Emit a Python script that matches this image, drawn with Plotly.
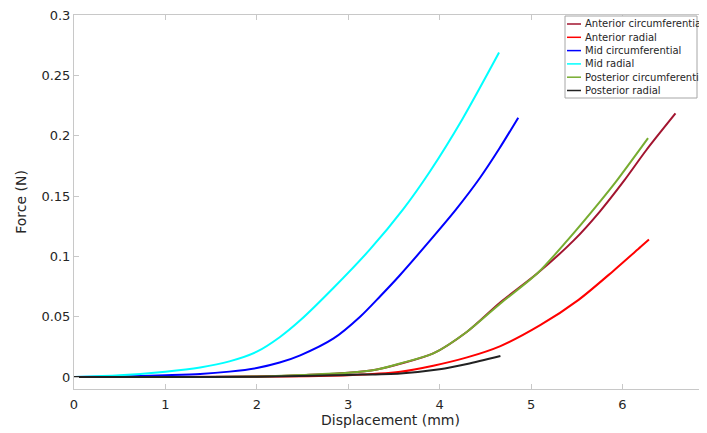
import plotly.graph_objects as go

# Data (Displacement in mm, Force in N)
ant_circ_x = [0, 1, 2, 2.5, 3, 3.3, 3.57, 3.93, 4.3, 4.665, 5.07, 5.47, 5.75, 6.02, 6.26, 6.58]
ant_circ_y = [0, 0, 0.0005, 0.0015, 0.0035, 0.006, 0.011, 0.0196, 0.0376, 0.062, 0.086, 0.1135, 0.137, 0.163, 0.188, 0.2185]

ant_rad_x = [0, 1, 2, 3, 3.57, 3.93, 4.30, 4.665, 5.10, 5.52, 5.9, 6.2, 6.29]
ant_rad_y = [0, 0, 0.0003, 0.0015, 0.0044, 0.0094, 0.0163, 0.0257, 0.043, 0.064, 0.088, 0.108, 0.114]

mid_circ_x = [0, 0.5, 1.0, 1.38, 1.7, 2.0, 2.25, 2.475, 2.84, 3.13, 3.35, 3.56, 3.87, 4.18, 4.44, 4.65, 4.86]
mid_circ_y = [0, 0.0005, 0.0015, 0.0025, 0.0045, 0.0075, 0.012, 0.018, 0.032, 0.050, 0.067, 0.084, 0.111, 0.139, 0.165, 0.189, 0.215]

mid_rad_x = [0, 0.5, 1.0, 1.38, 1.7, 2.0, 2.25, 2.475, 2.84, 3.24, 3.6, 3.89, 4.25, 4.65]
mid_rad_y = [0, 0.0015, 0.0045, 0.008, 0.013, 0.021, 0.033, 0.047, 0.074, 0.106, 0.139, 0.170, 0.214, 0.269]

post_circ_x = [0, 1, 2, 2.5, 3, 3.3, 3.57, 3.93, 4.3, 4.665, 5.07, 5.40, 5.75, 5.94, 6.28]
post_circ_y = [0, 0, 0.0005, 0.0018, 0.0036, 0.006, 0.0113, 0.0196, 0.0376, 0.061, 0.086, 0.1135, 0.145, 0.163, 0.198]

post_rad_x = [0, 1, 2, 3, 3.57, 4.0, 4.30, 4.665]
post_rad_y = [0, 0, 0.0003, 0.0018, 0.003, 0.0064, 0.0108, 0.0174]

names = ["Anterior circumferential", "Anterior radial", "Mid circumferential",
         "Mid radial", "Posterior circumferential", "Posterior radial"]
xs_all = [ant_circ_x, ant_rad_x, mid_circ_x, mid_rad_x, post_circ_x, post_rad_x]
ys_all = [ant_circ_y, ant_rad_y, mid_circ_y, mid_rad_y, post_circ_y, post_rad_y]
colors = ["#A2142F", "#FF0000", "#0000FF", "#00FFFF", "#77AC30", "#222222"]

x_ticks = [0, 1, 2, 3, 4, 5, 6]
y_ticks = [0, 0.05, 0.1, 0.15, 0.2, 0.25, 0.3]
y_tick_text = ["0", "0.05", "0.1", "0.15", "0.2", "0.25", "0.3"]

# The page body adds an 8px offset, so the figure is sized to fill the rest of the window
OFF = 8
W, H = 707 - OFF, 433 - OFF
PLOT_L, PLOT_T, PLOT_B = 74, 15, 389          # plot area in window pixels
ML, MT = PLOT_L - OFF, PLOT_T - OFF
MR = 0
PW = W - ML - MR
PH = PLOT_B - PLOT_T
MB = H - MT - PH


def px(xp):
    return (xp - PLOT_L) / PW


def py(yp):
    return (PLOT_B - yp) / PH


fig = go.Figure()
for name, xs, ys, col in zip(names, xs_all, ys_all, colors):
    fig.add_trace(go.Scatter(x=xs, y=ys, mode="lines", name=name, showlegend=False,
                             line=dict(color=col, width=2, shape="spline", smoothing=0.8)))

# Legend box drawn in the style of the reference
shapes = [dict(type="rect", xref="paper", yref="paper",
               x0=px(565), x1=px(697), y0=py(98), y1=py(16),
               line=dict(color="#a6a6a6", width=1), fillcolor="white", layer="above")]
annotations = []
row0, rowstep = 24, 13.3
for i, (name, col) in enumerate(zip(names, colors)):
    yy = row0 + i * rowstep
    shapes.append(dict(type="line", xref="paper", yref="paper",
                       x0=px(567), x1=px(581), y0=py(yy), y1=py(yy),
                       line=dict(color=col, width=1.5), layer="above"))
    annotations.append(dict(text=name, xref="paper", yref="paper", x=px(583), y=py(yy),
                            xanchor="left", yanchor="middle", showarrow=False,
                            font=dict(size=10, color="#262626")))

axis_col = "#c8c8c8"
font_family = "DejaVu Sans, Verdana, sans-serif"
fig.update_layout(
    width=W, height=H,
    margin=dict(l=ML, r=MR, t=MT, b=MB, autoexpand=False),
    paper_bgcolor="white", plot_bgcolor="white",
    font=dict(family=font_family, color="#262626", size=13),
    showlegend=False,
    shapes=shapes, annotations=annotations,
    xaxis=dict(range=[0, 6.925], tickvals=x_ticks, ticks="inside", ticklen=5,
               tickcolor=axis_col, showline=True, linecolor=axis_col, linewidth=1,
               mirror="ticks", showgrid=False, zeroline=False, automargin=False,
               ticklabelstandoff=3, ticklabeloverflow="allow",
               title=dict(text="Displacement (mm)", font=dict(size=14), standoff=2),
               tickfont=dict(size=13)),
    yaxis=dict(range=[-0.0099, 0.3001], tickvals=y_ticks, ticktext=y_tick_text,
               ticks="inside", ticklen=5, ticklabeloverflow="allow",
               tickcolor=axis_col, showline=True, linecolor=axis_col, linewidth=1,
               mirror=False, showgrid=False, zeroline=False, automargin=False,
               title=dict(text="Force (N)", font=dict(size=14), standoff=11),
               tickfont=dict(size=13)),
)

fig.write_html("out.html")
